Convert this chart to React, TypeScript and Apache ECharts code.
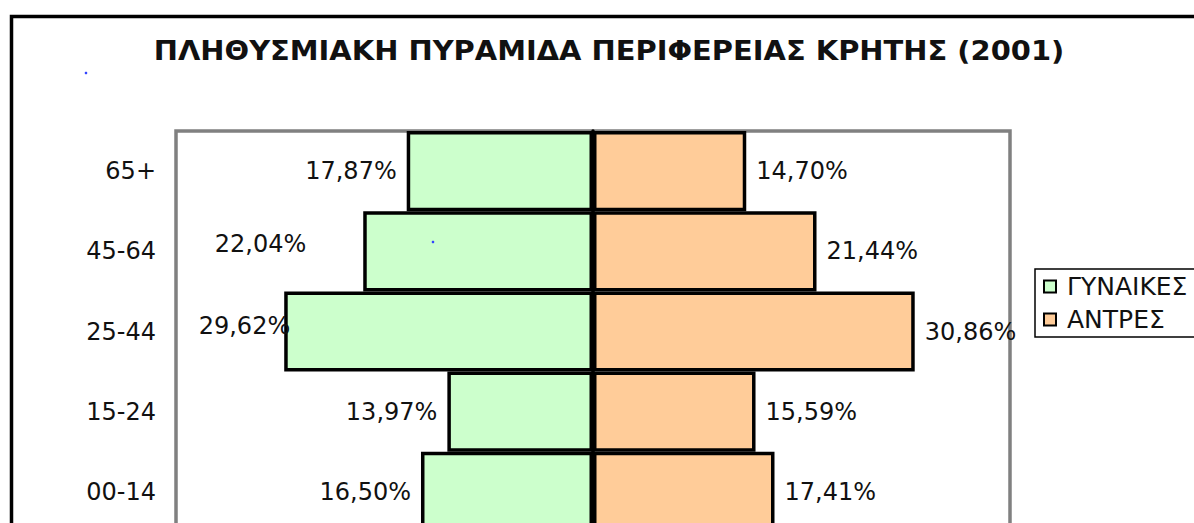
import React, { useEffect, useRef } from "react";
import * as echarts from "echarts";

const categories = ["65+", "45-64", "25-44", "15-24", "00-14"];
const women = [17.87, 22.04, 29.62, 13.97, 16.5];
const men = [14.7, 21.44, 30.86, 15.59, 17.41];
const seriesNames = ["ΓΥΝΑΙΚΕΣ", "ΑΝΤΡΕΣ"];
const titleText = "ΠΛΗΘΥΣΜΙΑΚΗ ΠΥΡΑΜΙΔΑ ΠΕΡΙΦΕΡΕΙΑΣ ΚΡΗΤΗΣ (2001)";

// label nudges seen in the original (women side)
const womenLabelOffsets: Record<string, [number, number]> = {
  "45-64": [-47, -7],
  "25-44": [16, -6],
};

const FONT = "DejaVu Sans";
const fmt = (v: number) => Math.abs(v).toFixed(2).replace(".", ",") + "%";

export default function App() {
  const ref = useRef<HTMLDivElement>(null);
  useEffect(() => {
    if (!ref.current) return;
    const chart = echarts.init(ref.current, null, { renderer: "svg" });
    const labelBase = {
      show: true,
      fontFamily: FONT,
      fontSize: 24,
      color: "#111",
      distance: 10,
      formatter: (p: any) => fmt(p.value),
    };
    chart.setOption({
      animation: false,
      backgroundColor: "#fff",
      grid: {
        left: 176,
        right: 184,
        top: 131,
        height: 401,
        show: true,
        borderColor: "#808080",
        borderWidth: 3.5,
        backgroundColor: "transparent",
      },
      xAxis: {
        type: "value",
        min: -40,
        max: 40,
        show: false,
        splitLine: { show: false },
      },
      yAxis: [
        {
          type: "category",
          data: categories,
          inverse: true,
          position: "left",
          axisLine: { show: false, onZero: false },
          axisTick: { show: false },
          axisLabel: {
            fontFamily: FONT,
            fontSize: 24,
            color: "#111",
            margin: 20,
          },
        },
        {
          type: "category",
          data: categories,
          inverse: true,
          position: "left",
          axisLine: { show: true, onZero: true, lineStyle: { color: "#000", width: 3.5 } },
          axisTick: {
            show: true,
            inside: true,
            alignWithLabel: true,
            length: 5,
            lineStyle: { color: "#000", width: 2 },
          },
          axisLabel: { show: false },
        },
      ],
      legend: {
        orient: "vertical",
        left: 1035,
        top: 269,
        padding: [4, 24, 4, 8],
        itemGap: 6,
        itemWidth: 12,
        itemHeight: 12,
        borderColor: "#000",
        borderWidth: 1.5,
        icon: "rect",
        itemStyle: { borderColor: "#000", borderWidth: 2 },
        textStyle: {
          fontFamily: FONT,
          fontSize: 25,
          color: "#111",
          lineHeight: 27,
          padding: [0, 0, 0, 6],
        },
        data: seriesNames,
      },
      series: [
        {
          name: seriesNames[0],
          type: "bar",
          yAxisIndex: 0,
          barGap: "-100%",
          barCategoryGap: "0%",
          itemStyle: { color: "#CCFFCC", borderColor: "#000", borderWidth: 3.5 },
          label: { ...labelBase, position: "left" },
          data: women.map((v, i) => {
            const off = womenLabelOffsets[categories[i]];
            return off ? { value: -v, label: { offset: off } } : -v;
          }),
        },
        {
          name: seriesNames[1],
          type: "bar",
          yAxisIndex: 0,
          barGap: "-100%",
          barCategoryGap: "0%",
          itemStyle: { color: "#FFCC99", borderColor: "#000", borderWidth: 3.5 },
          label: { ...labelBase, position: "right" },
          data: men,
        },
      ],
      graphic: [
        {
          type: "rect",
          shape: { x: 11.5, y: 16.5, width: 1400, height: 1000 },
          style: { fill: "none", stroke: "#000", lineWidth: 3.5 },
          silent: true,
        },
        {
          type: "text",
          x: 609,
          y: 51,
          scaleX: 1.072,
          style: {
            text: titleText,
            fontFamily: FONT,
            fontWeight: "bold",
            fontSize: 27,
            fill: "#111",
            align: "center",
            verticalAlign: "middle",
          },
        },
        { type: "circle", shape: { cx: 86, cy: 73, r: 1.3 }, style: { fill: "#3344ff" } },
        { type: "circle", shape: { cx: 433, cy: 242, r: 1.3 }, style: { fill: "#3344ff" }, z: 10 },
      ],
    });
    return () => chart.dispose();
  }, []);
  return (
    <div
      ref={ref}
      style={{ position: "fixed", left: 0, top: 0, width: 1194, height: 545 }}
    />
  );
}
